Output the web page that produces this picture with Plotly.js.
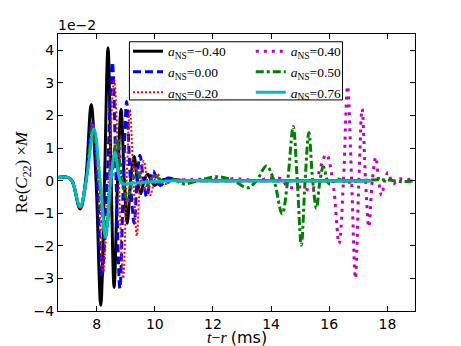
<!DOCTYPE html>
<html>
<head>
<meta charset="utf-8">
<script src="https://cdn.plot.ly/plotly-3.0.1.min.js"></script>
<style>
  html, body { margin: 0; padding: 0; background: #fff; }
  #chart { width: 461px; height: 346px; }
</style>
</head>
<body>
<div id="chart"></div>
<script>
'use strict';

// values (peaks, troughs and zero crossings), units of 1e-2
const xNeg040 = [6.67, 7.0, 7.15, 7.43, 7.62, 7.81, 7.98, 8.14, 8.27, 8.39, 8.50, 8.60, 8.72, 8.84, 8.95, 9.05, 9.17, 9.29, 9.40, 9.52, 9.63, 9.76, 9.88, 10.0, 10.2, 10.5, 11.0, 12.0, 14.0, 17.4];
const yNeg040 = [0.1, 0.1, 0.0, -0.87, 0.0, 2.34, 0.0, -3.82, 0.0, 4.08, 0.0, -3.28, 0.0, 2.18, 0.0, -1.31, 0.0, 0.74, 0.0, -0.40, 0.0, 0.20, 0.0, -0.15, 0.0, 0.05, 0.0, 0.0, 0.0, 0.0];

const x000 = [6.67, 7.0, 7.15, 7.43, 7.63, 7.83, 8.01, 8.18, 8.36, 8.54, 8.67, 8.80, 8.92, 9.03, 9.16, 9.29, 9.39, 9.49, 9.61, 9.72, 9.84, 9.95, 10.08, 10.2, 10.45, 10.8, 12.0, 17.4];
const y000 = [0.1, 0.1, 0.0, -0.85, 0.0, 1.80, 0.0, -2.95, 0.0, 3.63, 0.0, -3.31, 0.0, 2.43, 0.0, -1.31, 0.0, 0.78, 0.0, -0.50, 0.0, 0.30, 0.0, -0.15, 0.08, 0.0, 0.0, 0.0];

const x020 = [6.67, 7.0, 7.15, 7.43, 7.64, 7.87, 8.05, 8.22, 8.41, 8.60, 8.76, 8.91, 9.03, 9.14, 9.27, 9.38, 9.50, 9.62, 9.74, 9.85, 9.98, 10.1, 10.22, 10.35, 10.6, 12.0, 17.4];
const y020 = [0.1, 0.1, 0.0, -0.85, 0.0, 1.75, 0.0, -2.80, 0.0, 3.10, 0.0, -3.00, 0.0, 2.17, 0.0, -1.70, 0.0, 0.60, 0.0, -0.45, 0.0, 0.20, 0.0, -0.10, 0.0, 0.0, 0.0];

const x040 = [6.67, 7.0, 7.15, 7.43, 7.64, 7.87, 8.08, 8.28, 8.50, 8.72, 8.88, 9.05, 9.22, 9.40, 9.55, 9.70, 9.85, 10.0, 10.15, 10.3, 10.6, 11.0, 12.0, 13.0, 13.5, 13.9, 14.3, 14.6, 15.04, 15.39, 15.55, 15.9, 16.12, 16.34, 16.49, 16.63, 16.77, 16.90, 17.02, 17.13, 17.25, 17.36, 17.48, 17.60, 17.70, 17.80, 17.91, 18.02, 18.2, 18.4, 18.95];
const y040 = [0.1, 0.1, 0.0, -0.85, 0.0, 1.70, 0.0, -1.75, 0.0, 1.30, 0.0, -0.65, 0.0, 0.40, 0.0, -0.30, 0.0, 0.20, 0.0, -0.10, 0.0, 0.03, 0.05, 0.05, 0.0, 0.07, 0.07, -0.20, -0.20, -0.30, 0.0, 0.80, 0.0, -1.93, 0.0, 2.90, 0.0, -3.00, 0.0, 2.20, 0.0, -1.42, 0.0, 0.72, 0.0, -0.45, 0.0, 0.25, -0.10, 0.05, 0.0];

const x050 = [6.67, 7.0, 7.15, 7.43, 7.64, 7.87, 8.09, 8.30, 8.50, 8.69, 8.87, 9.05, 9.22, 9.40, 9.55, 9.70, 9.85, 10.0, 10.3, 10.6, 11.0, 11.6, 12.2, 12.7, 13.2, 13.5, 13.84, 14.1, 14.38, 14.57, 14.76, 14.9, 15.04, 15.17, 15.30, 15.43, 15.56, 15.68, 15.80, 16.0, 16.3, 16.6, 17.0, 18.0, 18.5, 18.95];
const y050 = [0.1, 0.1, 0.0, -0.85, 0.0, 1.65, 0.0, -1.73, 0.0, 1.27, 0.0, -0.55, 0.0, 0.25, 0.0, -0.15, 0.0, 0.15, -0.05, 0.05, -0.10, 0.03, 0.12, 0.0, -0.22, 0.0, 0.45, 0.0, -1.02, 0.0, 1.66, 0.0, -1.98, 0.0, 1.48, 0.0, -0.85, 0.0, 0.43, -0.10, 0.05, -0.05, 0.0, 0.02, -0.03, 0.0];

const x076 = [6.67, 7.0, 7.15, 7.43, 7.64, 7.91, 8.12, 8.31, 8.48, 8.63, 8.86, 9.2, 10.0, 11.0, 12.0, 17.45];
const y076 = [0.1, 0.1, 0.0, -0.80, 0.0, 1.59, 0.0, -1.74, 0.0, 0.86, -0.08, -0.08, -0.03, 0.0, 0.0, 0.0];

const spinLabels = ['\u22120.40', '0.00', '0.20', '0.40', '0.50', '0.76'];
const xTicks = [8, 10, 12, 14, 16, 18];
const yTicks = [-4, -3, -2, -1, 0, 1, 2, 3, 4];

function label(v) {
    return '<i>a</i><sub>NS</sub>=' + v;
}

function curve(x, y, name, color, width, dash, legend) {
    return {
        x: x,
        y: y,
        type: 'scatter',
        mode: 'lines',
        name: label(name),
        legend: legend,
        line: { color: color, width: width, dash: dash, shape: 'spline', smoothing: 1 }
    };
}

const data = [
    curve(xNeg040, yNeg040, spinLabels[0], '#000000', 3, 'solid', 'legend'),
    curve(x000, y000, spinLabels[1], '#0000ff', 3, '8px,4px', 'legend'),
    curve(x020, y020, spinLabels[2], '#ff0000', 2, '2px,2px', 'legend'),
    curve(x040, y040, spinLabels[3], '#bf00bf', 3, '3px,5px', 'legend2'),
    curve(x050, y050, spinLabels[4], '#008000', 3, '8px,3px,3px,3px', 'legend2'),
    curve(x076, y076, spinLabels[5], '#00bfbf', 3, 'solid', 'legend2')
];

const tickFont = { family: 'DejaVu Sans', size: 14, color: '#000' };
const legendFont = { family: 'Liberation Serif', size: 13.5, color: '#000' };

const layout = {
    width: 461,
    height: 346,
    margin: { l: 58, r: 46, t: 34, b: 35 },
    paper_bgcolor: '#fff',
    plot_bgcolor: '#fff',
    showlegend: true,
    xaxis: {
        range: [6.67, 18.95],
        tickvals: xTicks,
        ticks: 'inside',
        ticklen: 5,
        tickcolor: '#000',
        showline: true,
        linecolor: '#000',
        linewidth: 1,
        mirror: 'ticks',
        showgrid: false,
        zeroline: false,
        tickfont: tickFont
    },
    yaxis: {
        range: [-4, 4.5],
        tickvals: yTicks,
        ticks: 'inside',
        ticklen: 5,
        tickcolor: '#000',
        showline: true,
        linecolor: '#000',
        linewidth: 1,
        mirror: 'ticks',
        showgrid: false,
        zeroline: false,
        tickfont: tickFont,
        title: {
            text: 'Re(<i>C</i><sub>22</sub>) \u00d7<i>M</i>',
            font: { family: 'Liberation Serif', size: 17, color: '#000' },
            standoff: 0
        }
    },
    legend: {
        x: 0.196, y: 0.993, xanchor: 'left', yanchor: 'top',
        bgcolor: 'rgba(0,0,0,0)', borderwidth: 0, font: legendFont
    },
    legend2: {
        x: 0.54, y: 0.993, xanchor: 'left', yanchor: 'top',
        bgcolor: 'rgba(0,0,0,0)', borderwidth: 0, font: legendFont
    },
    shapes: [{
        type: 'rect', xref: 'paper', yref: 'paper', layer: 'above',
        x0: 0.2, x1: 0.797, y0: 0.762, y1: 0.972,
        line: { color: '#000', width: 1 }, fillcolor: '#fff'
    }],
    annotations: [{
        text: '1e\u22122', xref: 'paper', yref: 'paper', x: 0, y: 1,
        xanchor: 'left', yanchor: 'bottom', showarrow: false,
        font: tickFont, xshift: -2, yshift: -1
    }, {
        // x axis title, placed by hand so it sits as low as in the reference
        text: '<i>t</i>\u2212<i>r</i> <span style="font-family:DejaVu Sans">(ms)</span>',
        xref: 'paper', yref: 'paper', x: 0.5, y: 0,
        xanchor: 'center', yanchor: 'middle', showarrow: false,
        font: { family: 'Liberation Serif', size: 16, color: '#000' },
        yshift: -26
    }]
};

Plotly.newPlot('chart', data, layout, { displayModeBar: false, staticPlot: true });
</script>
</body>
</html>
